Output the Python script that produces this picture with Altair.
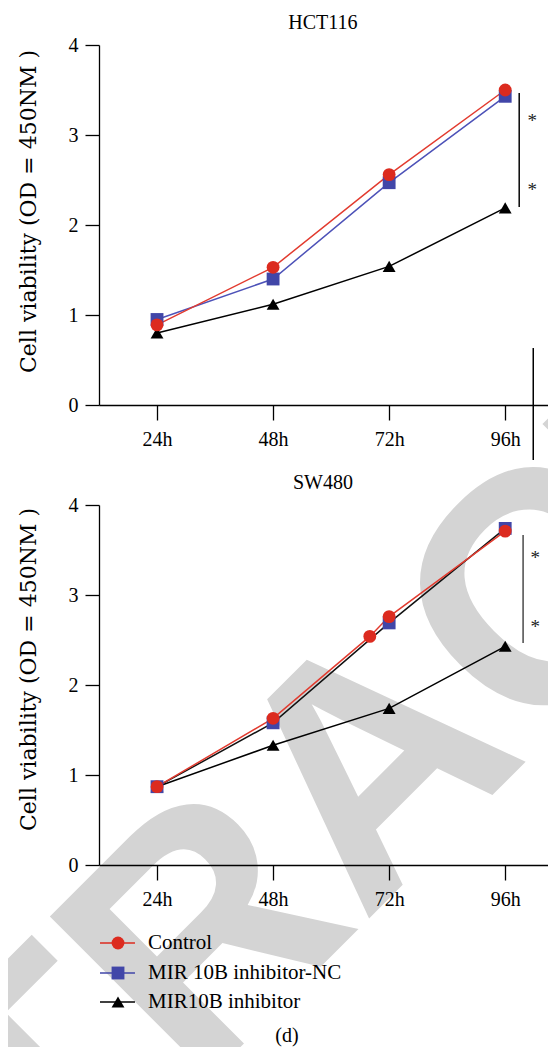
import altair as alt
import pandas as pd

# ---------------- data ----------------
SERIES = ["Control", "MIR 10B inhibitor-NC", "MIR10B inhibitor"]
HOURS = [24, 48, 72, 96]
Y_TICKS = [0, 1, 2, 3, 4]
PANEL_TITLES = ["HCT116", "SW480"]
Y_TITLE = "Cell viability (OD = 450NM )"
CAPTION = "(d)"
WATERMARK = "TRACT"

# HCT116
hct_ctrl_x = [24, 48, 72, 96]
hct_ctrl_y = [0.89, 1.53, 2.56, 3.50]
hct_nc_x = [24, 48, 72, 96]
hct_nc_y = [0.95, 1.40, 2.47, 3.43]
hct_inh_x = [24, 48, 72, 96]
hct_inh_y = [0.80, 1.12, 1.54, 2.19]

# SW480
sw_ctrl_x = [24, 48, 68, 72, 96]
sw_ctrl_y = [0.87, 1.63, 2.54, 2.76, 3.71]
sw_nc_x = [24, 48, 72, 96]
sw_nc_y = [0.87, 1.58, 2.69, 3.74]
sw_inh_x = [24, 48, 72, 96]
sw_inh_y = [0.87, 1.33, 1.74, 2.43]

# significance brackets (x in hours, y in OD units)
hct_bracket = {"x": [98.9], "y": [2.20], "y2": [3.467]}
hct_stars = {"x": [101.6, 101.6], "y": [3.09, 2.32], "t": ["*", "*"]}
sw_bracket = {"x": [99.7], "y": [2.467], "y2": [3.667]}
sw_stars = {"x": [102.2, 102.2], "y": [3.344, 2.578], "t": ["*", "*"]}
hct_extra_rule = {"x": [101.8], "y": [-0.611], "y2": [0.633]}

POINT_COLORS = ["#dc2b1f", "#4146a8", "#000000"]
LEGEND_LINE_COLORS = ["#e23b2f", "#4d52b8", "#000000"]
LINE_HCT = {"Control": "#e23b2f", "MIR 10B inhibitor-NC": "#4d52b8", "MIR10B inhibitor": "#000000"}
LINE_SW = {"Control": "#e23b2f", "MIR 10B inhibitor-NC": "#111111", "MIR10B inhibitor": "#000000"}


def series_frame(pairs, line_colors):
    rows = []
    for name, xs_, ys_ in pairs:
        for a, b in zip(xs_, ys_):
            rows.append({"series": name, "x": a, "y": b, "lcolor": line_colors[name]})
    return pd.DataFrame(rows)


# draw order: inhibitor, NC, control (control on top)
hct_df = series_frame([
    ("MIR10B inhibitor", hct_inh_x, hct_inh_y),
    ("MIR 10B inhibitor-NC", hct_nc_x, hct_nc_y),
    ("Control", hct_ctrl_x, hct_ctrl_y),
], LINE_HCT)
sw_df = series_frame([
    ("MIR10B inhibitor", sw_inh_x, sw_inh_y),
    ("MIR 10B inhibitor-NC", sw_nc_x, sw_nc_y),
    ("Control", sw_ctrl_x, sw_ctrl_y),
], LINE_SW)

SERIF = "Liberation Serif"
W, H = 540, 1039

color_scale = alt.Scale(domain=SERIES, range=POINT_COLORS)
shape_scale = alt.Scale(domain=SERIES, range=["circle", "square", "triangle-up"])
size_scale = alt.Scale(domain=SERIES, range=[165, 165, 130])


def make_axes(x_offset, title_y):
    x_axis = alt.Axis(values=HOURS, labelExpr="datum.value + 'h'", title=None, grid=False,
                      orient="bottom", offset=x_offset,
                      tickSize=15, tickWidth=1.3, domainWidth=1.3, domainColor="black",
                      tickColor="black", labelFont=SERIF, labelFontSize=20, labelColor="black",
                      labelPadding=9, zindex=1)
    y_axis = alt.Axis(values=Y_TICKS, format="d", title=Y_TITLE, grid=False,
                      orient="left", offset=-91,
                      tickSize=14, tickWidth=1.3, domainWidth=1.3, domainColor="black",
                      tickColor="black", labelFont=SERIF, labelFontSize=20, labelColor="black",
                      labelPadding=7, titleFont="DejaVu Serif", titleFontSize=22,
                      titleFontWeight="normal", titleColor="black", titleAngle=270,
                      titleX=-71, titleY=title_y, titleAlign="center", titleBaseline="middle",
                      zindex=1)
    return x_axis, y_axis


def panel(title, df, bracket, stars, bracket_color, y_range, x_offset, title_y,
          pre=None, extra=None):
    xs = alt.Scale(domain=[12, 104.85], range=[91, 540], nice=False, zero=False)
    ys = alt.Scale(domain=[0, 4], range=y_range, nice=False, zero=False)
    x_axis, y_axis = make_axes(x_offset, title_y)

    def X(field="x"):
        return alt.X(f"{field}:Q", scale=xs, axis=x_axis)

    def Y(field="y"):
        return alt.Y(f"{field}:Q", scale=ys, axis=y_axis)

    layers = []
    if pre is not None:
        layers.extend(p(X, Y) for p in pre)

    base = alt.Chart(df)
    layers.append(base.mark_line(strokeWidth=1.5).encode(
        x=X(), y=Y(), detail="series:N", color=alt.Color("lcolor:N", scale=None)))
    layers.append(base.mark_point(filled=True, opacity=1, strokeWidth=0).encode(
        x=X(), y=Y(),
        color=alt.Color("series:N", scale=color_scale, legend=None),
        shape=alt.Shape("series:N", scale=shape_scale, legend=None),
        size=alt.Size("series:N", scale=size_scale, legend=None)))
    layers.append(alt.Chart(pd.DataFrame(bracket)).mark_rule(
        strokeWidth=1.6, color=bracket_color).encode(x=X(), y=Y(), y2="y2:Q"))
    layers.append(alt.Chart(pd.DataFrame(stars)).mark_text(
        font=SERIF, fontSize=19, color="#222222", baseline="alphabetic", align="center").encode(
        x=X(), y=Y(), text="t:N"))
    layers.append(alt.Chart(pd.DataFrame({"x": [58.3], "y": [4.178], "t": [title]})).mark_text(
        font=SERIF, fontSize=20, color="black", baseline="alphabetic", align="center").encode(
        x=X(), y=Y(), text="t:N"))
    if extra is not None:
        layers.extend(e(X, Y) for e in extra)
    return alt.layer(*layers)


def watermark(X, Y):
    return alt.Chart(pd.DataFrame({"x": [69.6], "y": [-4.055], "t": [WATERMARK]})).mark_text(
        font="Liberation Sans", fontWeight="bold", fontSize=330, angle=315, clip=True,
        color="#d4d4d4", align="center", baseline="middle").encode(x=X(), y=Y(), text="t:N")


def extra_rule(X, Y):
    return alt.Chart(pd.DataFrame(hct_extra_rule)).mark_rule(strokeWidth=1.5, color="black").encode(
        x=X(), y=Y(), y2="y2:Q")


leg_df = pd.DataFrame({
    "series": SERIES,
    "y": [-0.867, -1.20, -1.522],
    "x1": [12.2] * 3,
    "x2": [19.44] * 3,
    "xm": [15.93] * 3,
    "xt": [22.13] * 3,
})


def leg_lines(X, Y):
    return alt.Chart(leg_df).mark_rule(strokeWidth=1.5).encode(
        x=X("x1"), x2="x2:Q", y=Y(),
        color=alt.Color("series:N", scale=alt.Scale(domain=SERIES, range=LEGEND_LINE_COLORS),
                        legend=None))


def leg_pts(X, Y):
    return alt.Chart(leg_df).mark_point(filled=True, opacity=1, strokeWidth=0).encode(
        x=X("xm"), y=Y(),
        color=alt.Color("series:N", scale=color_scale, legend=None),
        shape=alt.Shape("series:N", scale=shape_scale, legend=None),
        size=alt.Size("series:N", scale=size_scale, legend=None))


def leg_txt(X, Y):
    return alt.Chart(leg_df).mark_text(font=SERIF, fontSize=21, color="black", align="left",
                                       baseline="middle").encode(x=X("xt"), y=Y(), text="series:N")


def caption(X, Y):
    return alt.Chart(pd.DataFrame({"x": [50.87], "y": [-1.967], "t": [CAPTION]})).mark_text(
        font=SERIF, fontSize=20, color="black", align="center", baseline="alphabetic").encode(
        x=X(), y=Y(), text="t:N")


top = panel(PANEL_TITLES[0], hct_df, hct_bracket, hct_stars, "#111111",
            y_range=[397, 37], x_offset=-(H - 397), title_y=203,
            pre=[watermark], extra=[extra_rule])
bottom = panel(PANEL_TITLES[1], sw_df, sw_bracket, sw_stars, "#555555",
               y_range=[857, 497], x_offset=-(H - 857), title_y=661,
               extra=[leg_lines, leg_pts, leg_txt, caption])

chart = alt.layer(top, bottom).resolve_scale(x="independent", y="independent").properties(
    width=W, height=H, padding=0, autosize=alt.AutoSizeParams(type="none")
).configure_view(stroke=None)

chart.save("out.html", embed_options={"renderer": "svg", "actions": False})
